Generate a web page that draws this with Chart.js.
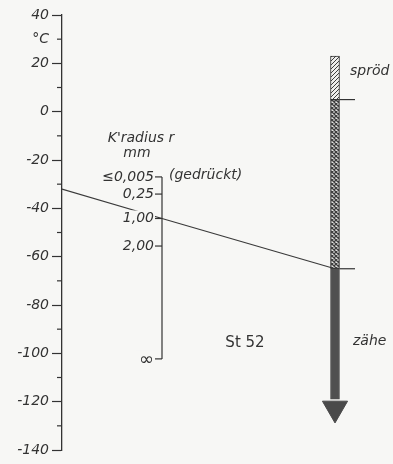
<!DOCTYPE html>
<html>
<head>
<meta charset="utf-8">
<script src="https://cdn.jsdelivr.net/npm/chart.js@4.4.1/dist/chart.umd.min.js"></script>
<style>
  html, body { margin: 0; padding: 0; background: #f7f7f5; }
  canvas { display: block; }
</style>
</head>
<body>
<canvas id="nomo" width="393" height="464"></canvas>
<script>
// temperature scale (left), degrees C
const tempMin = -140;
const tempMax = 40;
const tempLabelled = [40, 20, 0, -20, -40, -60, -80, -100, -120, -140];

// notch radius scale (middle)
const radiusLabels = ['≤0,005', '0,25', '1,00', '2,00', '∞'];
const radiusPos = [-27, -34.1, -44.2, -55.6, -102.3];

// nomogram columns
const colTemp = 0;
const colRadius = 1;
const colSteel = 2.73;

// St 52 bar: spröd / transition / zähe ranges in degrees C
const steelBands = [[23, 5], [5, -65], [-65, -119]];
const steelMarks = [5, -65];
const arrowHead = -122.8;

// example reading: -32 C through r = 1,00 mm
const readX = [colTemp, colRadius, colSteel];
const readY = [-32, -44.2, -65];

const ink = '#333';
const paper = '#f7f7f5';
const italic = 'italic 14px "DejaVu Sans"';

const canvas = document.getElementById('nomo');
const ctx = canvas.getContext('2d');

function makePattern(bg, lw, draw) {
    const c = document.createElement('canvas');
    c.width = 4;
    c.height = 4;
    const g = c.getContext('2d');
    g.fillStyle = bg;
    g.fillRect(0, 0, 4, 4);
    g.strokeStyle = '#3e3e3e';
    g.lineWidth = lw;
    draw(g);
    return ctx.createPattern(c, 'repeat');
}

const hatch = makePattern('#eeeeec', 1, g => {
    g.beginPath();
    g.moveTo(-1, 5); g.lineTo(5, -1);
    g.moveTo(-1, 1); g.lineTo(1, -1);
    g.moveTo(3, 5); g.lineTo(5, 3);
    g.stroke();
});

// diamond chain, like the screened transition zone
const cross = makePattern('#e4e4e2', 1.3, g => {
    g.beginPath();
    g.moveTo(0, 4); g.lineTo(4, 0);
    g.moveTo(0, 0); g.lineTo(4, 4);
    g.stroke();
});

function seg(c, x1, y1, x2, y2) {
    c.beginPath();
    c.moveTo(x1, y1);
    c.lineTo(x2, y2);
    c.stroke();
}

const extras = {
    id: 'extras',
    beforeDraw(chart) {
        const c = chart.ctx;
        c.save();
        c.fillStyle = paper;
        c.fillRect(0, 0, chart.width, chart.height);
        c.restore();
    },
    afterDraw(chart) {
        const c = chart.ctx;
        const xs = chart.scales.x;
        const ys = chart.scales.y;
        c.save();
        c.strokeStyle = ink;
        c.fillStyle = ink;
        c.lineWidth = 1.2;

        // minor ticks on the temperature axis
        const x0 = xs.getPixelForValue(colTemp);
        for (let t = tempMin; t <= tempMax; t += 10) {
            if (tempLabelled.includes(t)) continue;
            const y = ys.getPixelForValue(t);
            seg(c, x0 - 5, y, x0, y);
        }

        // radius axis
        const xr = xs.getPixelForValue(colRadius);
        const yTop = ys.getPixelForValue(radiusPos[0]);
        seg(c, xr, yTop, xr, ys.getPixelForValue(radiusPos[radiusPos.length - 1]));
        c.textAlign = 'right';
        c.textBaseline = 'middle';
        radiusLabels.forEach((lab, i) => {
            const y = ys.getPixelForValue(radiusPos[i]);
            c.font = lab === '∞' ? 'italic 18px "DejaVu Sans"' : italic;
            const w = c.measureText(lab).width;
            c.fillStyle = paper;
            c.fillRect(xr - 9 - w - 3, y - 8, w + 5, 16);
            c.fillStyle = ink;
            seg(c, xr - 7, y, xr, y);
            c.fillText(lab, xr - 8, lab === '∞' ? y + 1 : y);
        });

        c.font = italic;
        c.textAlign = 'center';
        c.fillText("K'radius r", xr - 21, yTop - 39);
        c.fillText('mm', xr - 25, yTop - 24);
        c.textAlign = 'left';
        c.fillText('(gedrückt)', xr + 7, yTop - 2);

        // marks beside the steel bar
        const xb = xs.getPixelForValue(colSteel);
        steelMarks.forEach(t => {
            const y = ys.getPixelForValue(t);
            seg(c, xb + 4.5, y, xb + 20, y);
        });
        c.fillText('spröd', xb + 15, ys.getPixelForValue(steelBands[0][0]) + 15);
        const yZ = ys.getPixelForValue(steelMarks[1]) + 73;
        c.fillText('zähe', xb + 18, yZ);
        c.textAlign = 'center';
        c.font = '15px "DejaVu Sans"';
        c.fillText('St 52', xb - 90, yZ + 1);
        c.restore();
    }
};

new Chart(ctx, {
    data: {
        datasets: [
            {
                type: 'bar',
                data: steelBands.map(b => ({ x: colSteel, y: b })),
                backgroundColor: [hatch, cross, '#505050'],
                borderColor: [ink, ink, '#505050'],
                borderWidth: 1,
                borderSkipped: false,
                barThickness: 9,
                order: 1
            },
            {
                type: 'scatter',
                data: [{ x: colSteel, y: arrowHead }],
                pointStyle: 'triangle',
                pointRotation: 180,
                pointRadius: 14.5,
                backgroundColor: '#4a4a4a',
                borderColor: '#4a4a4a',
                borderWidth: 1,
                order: 0
            },
            {
                type: 'line',
                data: readX.map((x, i) => ({ x: x, y: readY[i] })),
                borderColor: '#3a3a3a',
                borderWidth: 1.2,
                pointRadius: 0,
                order: 3
            }
        ]
    },
    options: {
        responsive: false,
        animation: false,
        devicePixelRatio: 1,
        layout: { autoPadding: false, padding: { top: 15, bottom: 14, left: 0, right: 0 } },
        plugins: { legend: { display: false }, tooltip: { enabled: false } },
        scales: {
            x: { type: 'linear', min: 0, max: 3.31, offset: false, display: false },
            y: {
                type: 'linear',
                position: 'left',
                min: tempMin,
                max: tempMax,
                afterFit: s => { s.width = 62; },
                ticks: {
                    stepSize: 10,
                    autoSkip: false,
                    padding: 3,
                    color: ink,
                    font: { family: 'DejaVu Sans', size: 14, style: 'italic' },
                    callback: v => v === 30 ? '°C' : (tempLabelled.includes(v) ? String(v) : '')
                },
                grid: {
                    drawOnChartArea: false,
                    tickLength: 10,
                    tickWidth: 1.2,
                    tickColor: c => tempLabelled.includes(c.tick.value) ? ink : 'rgba(0,0,0,0)'
                },
                border: { color: ink, width: 1.3 }
            }
        }
    },
    plugins: [extras]
});
</script>
</body>
</html>
